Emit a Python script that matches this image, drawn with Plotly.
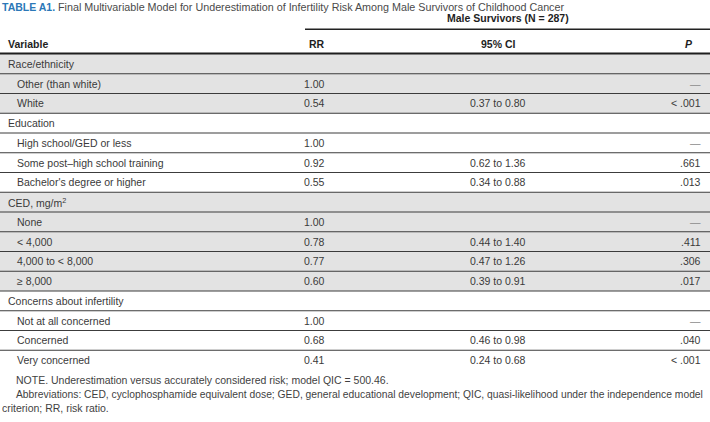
import plotly.graph_objects as go

# ---------------- data ----------------
title_label = "TABLE A1."
title_text = ("Final Multivariable Model for Underestimation of Infertility Risk "
              "Among Male Survivors of Childhood Cancer")
span_header = "Male Survivors (N = 287)"
col_headers = ["Variable", "RR", "95% CI", "P"]

groups = ["Race/ethnicity", "Education", "CED, mg/m<sup>2</sup>", "Concerns about infertility"]
group_shaded = [True, False, True, False]

levels = [
    ["Other (than white)", "White"],
    ["High school/GED or less", "Some post\u2013high school training", "Bachelor's degree or higher"],
    ["None", "< 4,000", "4,000 to < 8,000", "\u2265 8,000"],
    ["Not at all concerned", "Concerned", "Very concerned"],
]
rr_values = [
    ["1.00", "0.54"],
    ["1.00", "0.92", "0.55"],
    ["1.00", "0.78", "0.77", "0.60"],
    ["1.00", "0.68", "0.41"],
]
ci_values = [
    ["", "0.37 to 0.80"],
    ["", "0.62 to 1.36", "0.34 to 0.88"],
    ["", "0.44 to 1.40", "0.47 to 1.26", "0.39 to 0.91"],
    ["", "0.46 to 0.98", "0.24 to 0.68"],
]
p_values = [
    ["\u2014", "< .001"],
    ["\u2014", ".661", ".013"],
    ["\u2014", ".411", ".306", ".017"],
    ["\u2014", ".040", "< .001"],
]
footnotes = [
    "NOTE. Underestimation versus accurately considered risk; model QIC = 500.46.",
    "Abbreviations: CED, cyclophosphamide equivalent dose; GED, general educational development; "
    "QIC, quasi-likelihood under the independence model",
    "criterion; RR, risk ratio.",
]

# ---------------- styling ----------------
W, H = 710, 422
FONT = "Liberation Sans, Arial, sans-serif"
TXT = "#3a3a3a"
HDR = "#1e1e1e"
BLUE = "#2b78b8"
SHADE = "#e3e3e3"
FS = 10.5

X_VAR, X_IND = 6, 15
X_RR = 327
X_CI = 498
X_P = 703
X_PH = 689

TOP = 54.0
ROW_H = 19.75

fig = go.Figure()
shapes = []
ann = []


def text(x, y, s, anchor="left", size=FS, color=TXT, bold=False):
    if bold:
        s = "<b>" + s + "</b>"
    ann.append(dict(x=x, y=y, xref="x", yref="y", text=s, showarrow=False,
                    xanchor=anchor, yanchor="middle",
                    font=dict(family=FONT, size=size, color=color)))


# title
text(0, 7, "<b>" + title_label + "</b>", size=10.5, color=BLUE)
text(56, 7, title_text, size=10.75, color="#4a4a4a")

# spanning header
text(508, 18, span_header, anchor="center", size=10.5, color=HDR, bold=True)
shapes.append(dict(type="line", xref="x", yref="y", x0=305, x1=W, y0=29.3, y1=29.3,
                   line=dict(color="#222", width=1.4)))

# column headers
text(X_VAR, 44, col_headers[0], size=10.5, color=HDR, bold=True)
text(316.5, 44, col_headers[1], anchor="center", size=10.5, color=HDR, bold=True)
text(X_CI, 44, col_headers[2], anchor="center", size=10.5, color=HDR, bold=True)
text(X_PH, 44, "<i>" + col_headers[3] + "</i>", anchor="center", size=10.5, color=HDR, bold=True)

# body
row = 0
n_rows_total = sum(1 + len(l) for l in levels)
for gi, gname in enumerate(groups):
    g_top = TOP + row * ROW_H
    g_rows = 1 + len(levels[gi])
    g_bot = g_top + g_rows * ROW_H
    if group_shaded[gi]:
        shapes.append(dict(type="rect", xref="x", yref="y", x0=0, x1=W, y0=g_top, y1=g_bot,
                           fillcolor=SHADE, line=dict(width=0), layer="below"))
    yc = g_top + ROW_H / 2
    text(X_VAR, yc, gname)
    row += 1
    for li, lname in enumerate(levels[gi]):
        yc = TOP + row * ROW_H + ROW_H / 2
        text(X_IND, yc, lname)
        text(X_RR, yc, rr_values[gi][li], anchor="right")
        if ci_values[gi][li]:
            text(X_CI, yc, ci_values[gi][li], anchor="center")
        text(X_P, yc, p_values[gi][li], anchor="right",
             color="#8a8a8a" if p_values[gi][li] == "\u2014" else TXT)
        row += 1

# horizontal separators between rows
for r in range(1, n_rows_total):
    y = TOP + r * ROW_H
    shapes.append(dict(type="line", xref="x", yref="y", x0=0, x1=W, y0=y, y1=y,
                       line=dict(color="#3c3c3c", width=1.2)))

# thick header rule
shapes.append(dict(type="line", xref="x", yref="y", x0=0, x1=W, y0=TOP - 0.5, y1=TOP - 0.5,
                   line=dict(color="#1e1e1e", width=2)))

# footnotes
end_y = TOP + n_rows_total * ROW_H
text(14, end_y + 10, footnotes[0], size=10.5, color="#3f3f3f")
text(14, end_y + 24, footnotes[1], size=10.3, color="#3f3f3f")
text(0, end_y + 37.5, footnotes[2], size=10.5, color="#3f3f3f")

fig.update_layout(
    width=W, height=H,
    margin=dict(l=0, r=0, t=0, b=0),
    paper_bgcolor="white", plot_bgcolor="white",
    xaxis=dict(range=[0, W], visible=False, fixedrange=True),
    yaxis=dict(range=[H, 0], visible=False, fixedrange=True),
    shapes=shapes, annotations=ann, showlegend=False,
)
fig.write_html("out.html", config={"displayModeBar": False},
               post_script="document.body.style.margin='0';document.body.style.overflow='hidden';")
